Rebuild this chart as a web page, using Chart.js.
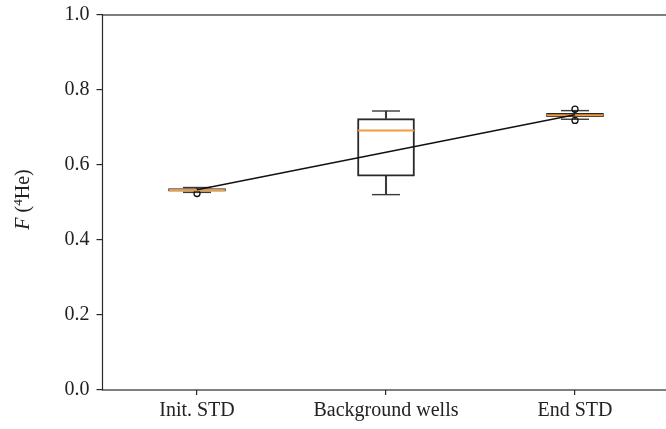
<!DOCTYPE html>
<html>
<head>
<meta charset="utf-8">
<script src="https://cdn.jsdelivr.net/npm/chart.js@4.4.1/dist/chart.umd.min.js"></script>
<style>
  html, body { margin: 0; padding: 0; background: #fff; overflow: hidden; }
  #wrap { width: 672px; height: 429px; }
</style>
</head>
<body>
<div id="wrap"><canvas id="c" width="672" height="429"></canvas></div>
<script>
// ---- data ----
const categories = ['Init. STD', 'Background wells', 'End STD'];
const whiskerLow  = [0.527, 0.521, 0.722];
const q1          = [0.530, 0.570, 0.729];
const medians     = [0.533, 0.692, 0.733];
const q3          = [0.537, 0.724, 0.738];
const whiskerHigh = [0.540, 0.744, 0.745];
const outliers = [
  { x: 'Init. STD', y: 0.524 },
  { x: 'End STD', y: 0.749 },
  { x: 'End STD', y: 0.719 }
];
const trendLine = [0.534, null, 0.734];
const yTicks = [0.0, 0.2, 0.4, 0.6, 0.8, 1.0];

const FONT = "'Liberation Serif', 'Times New Roman', serif";
const AXIS = '#2a2a2a';

const frame = {
  id: 'frame',
  afterDatasetsDraw(chart) {
    const a = chart.chartArea, ctx = chart.ctx;
    ctx.save();
    ctx.strokeStyle = AXIS;
    ctx.lineWidth = 1.2;
    ctx.strokeRect(a.left, a.top, a.right - a.left, a.bottom - a.top);
    ctx.restore();
  }
};

const yTitle = {
  id: 'yTitle',
  afterDraw(chart) {
    const ctx = chart.ctx, a = chart.chartArea;
    const parts = [
      { t: 'F', f: 'italic 20px ' + FONT, dy: 0 },
      { t: ' (', f: '20px ' + FONT, dy: 0 },
      { t: '4', f: '13px ' + FONT, dy: -7 },
      { t: 'He)', f: '20px ' + FONT, dy: 0 }
    ];
    ctx.save();
    let total = 0;
    parts.forEach(p => { ctx.font = p.f; p.w = ctx.measureText(p.t).width; total += p.w; });
    ctx.translate(23, (a.top + a.bottom) / 2 - 3);
    ctx.rotate(-Math.PI / 2);
    ctx.fillStyle = '#222';
    ctx.textBaseline = 'alphabetic';
    let x = -total / 2;
    parts.forEach(p => { ctx.font = p.f; ctx.fillText(p.t, x, 6 + p.dy); x += p.w; });
    ctx.restore();
  }
};

function noPad(s) { s.paddingTop = 0; s.paddingBottom = 0; s.paddingLeft = 0; s.paddingRight = 0; }

const boxData = categories.map((c, i) => [q1[i], q3[i]]);
const lowWhisk = categories.map((c, i) => [whiskerLow[i], q1[i]]);
const highWhisk = categories.map((c, i) => [q3[i], whiskerHigh[i]]);

new Chart(document.getElementById('c'), {
  type: 'bar',
  data: {
    labels: categories,
    datasets: [
      { type: 'line', label: 'trend', data: trendLine, spanGaps: true,
        borderColor: '#111', borderWidth: 1.3, pointRadius: 0, fill: false, order: 0 },
      { type: 'line', label: 'median', data: medians, showLine: false,
        pointStyle: 'line', pointRadius: 28, borderColor: '#f29a3e', borderWidth: 2, order: 1 },
      { type: 'line', label: 'outliers', data: outliers, showLine: false,
        pointStyle: 'circle', pointRadius: 3, borderColor: '#111', backgroundColor: 'rgba(0,0,0,0)',
        borderWidth: 1.3, order: 1 },
      { type: 'bar', label: 'box', data: boxData, grouped: false, barThickness: 57,
        backgroundColor: 'rgba(0,0,0,0)', borderColor: '#2a2a2a', borderWidth: 1.3,
        borderSkipped: false, order: 2 },
      { type: 'bar', label: 'wlow', data: lowWhisk, grouped: false, barThickness: 1.4,
        backgroundColor: '#3a3a3a', borderWidth: 0, order: 3 },
      { type: 'bar', label: 'whigh', data: highWhisk, grouped: false, barThickness: 1.4,
        backgroundColor: '#3a3a3a', borderWidth: 0, order: 3 },
      { type: 'line', label: 'capLow', data: whiskerLow, showLine: false,
        pointStyle: 'line', pointRadius: 14, borderColor: '#3a3a3a', borderWidth: 1.4, order: 3 },
      { type: 'line', label: 'capHigh', data: whiskerHigh, showLine: false,
        pointStyle: 'line', pointRadius: 14, borderColor: '#3a3a3a', borderWidth: 1.4, order: 3 }
    ]
  },
  options: {
    responsive: false,
    animation: false,
    events: [],
    layout: { autoPadding: false, padding: { top: 15, right: 2.5, left: 0, bottom: 0 } },
    plugins: { legend: { display: false }, tooltip: { enabled: false } },
    scales: {
      x: {
        type: 'category',
        offset: true,
        border: { display: false },
        grid: { offset: false, drawOnChartArea: false, drawTicks: true, tickLength: 5,
                color: AXIS, lineWidth: 1.2 },
        ticks: { color: '#222', font: { family: FONT, size: 20 }, padding: 4, maxRotation: 0 },
        afterFit(s) { s.height = 39; noPad(s); }
      },
      y: {
        min: 0, max: 1,
        border: { display: false },
        afterBuildTicks(s) { s.ticks = yTicks.map(v => ({ value: v })); },
        grid: { drawOnChartArea: false, drawTicks: true, tickLength: 6, color: AXIS, lineWidth: 1.2 },
        ticks: { color: '#222', font: { family: FONT, size: 20 }, padding: 7,
                 callback: v => Number(v).toFixed(1) },
        afterFit(s) { s.width = 102.5; noPad(s); }
      }
    }
  },
  plugins: [frame, yTitle]
});
</script>
</body>
</html>
